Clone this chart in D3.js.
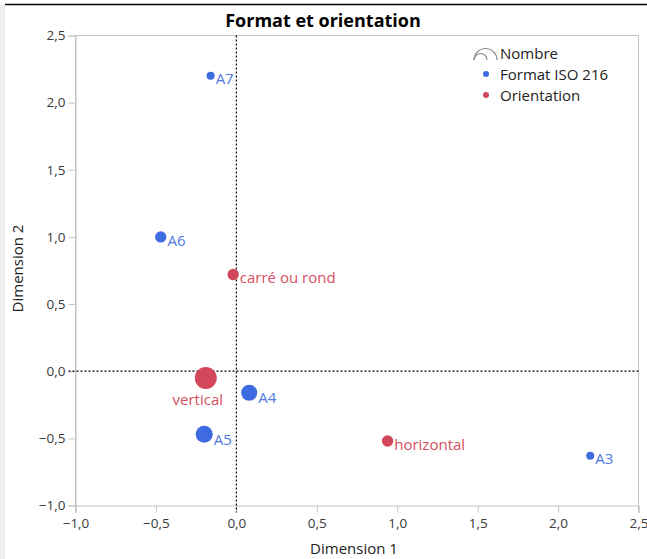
<!DOCTYPE html>
<html><head><meta charset="utf-8">
<script src="https://cdn.jsdelivr.net/npm/d3@7"></script>
<style>
html,body{margin:0;padding:0;background:#fff;}
text{font-family:"Open Sans","Noto Sans",sans-serif;}
</style></head>
<body><svg id="c" width="647" height="559"></svg>
<script>
// Data
const labels = ["A7","A6","carré ou rond","vertical","A4","A5","horizontal","A3"];
const groups = ["Format ISO 216","Format ISO 216","Orientation","Orientation","Format ISO 216","Format ISO 216","Orientation","Format ISO 216"];
const dim1 = [-0.16,-0.47,-0.02,-0.19,0.08,-0.20,0.94,2.20];
const dim2 = [2.20,1.00,0.72,-0.05,-0.16,-0.47,-0.52,-0.63];
const counts = [2,4,4,15,8,9,4,2];
const labelPlacement = ["right","right","right","below","right","right","right","right"];
const ticks = [-1.0,-0.5,0.0,0.5,1.0,1.5,2.0,2.5];
const legendGroups = ["Format ISO 216","Orientation"];

const svg = d3.select("#c");
const W=647,H=559;
const m = {l:75.5,r:638.5,t:35.5,b:505.5};
const x = d3.scaleLinear().domain([-1,2.5]).range([m.l,m.r]);
const y = d3.scaleLinear().domain([-1,2.5]).range([m.b,m.t]);
const r = d3.scaleSqrt().domain([0,d3.max(counts)]).range([0,11]);
const color = d3.scaleOrdinal().domain(legendGroups).range(["#3f6be0","#d2475a"]);
const lcolor = d3.scaleOrdinal().domain(legendGroups).range(["#4f78e2","#d4505f"]);
const fmt = v => d3.format(".1f")(v).replace(".",",");

// frame decorations
svg.append("rect").attr("x",0).attr("y",5).attr("width",5).attr("height",H).attr("fill","#f0f0f0");
svg.append("line").attr("x1",5).attr("x2",W).attr("y1",4.5).attr("y2",4.5).attr("stroke","#000").attr("stroke-width",1.5);

// title
svg.append("text").attr("x",323).attr("y",27).attr("text-anchor","middle")
  .attr("font-size",18).attr("font-weight","bold").attr("fill","#000").text("Format et orientation");

// plot border top / right
svg.append("line").attr("x1",m.l).attr("x2",m.r).attr("y1",m.t).attr("y2",m.t).attr("stroke","#c4c4c4");
svg.append("line").attr("x1",m.r).attr("x2",m.r).attr("y1",m.t).attr("y2",m.b+7).attr("stroke","#c4c4c4");

// axes
const xAxis = svg.append("g").attr("transform",`translate(0,${m.b})`)
  .call(d3.axisBottom(x).tickValues(ticks).tickFormat(fmt).tickSizeOuter(0).tickSize(7).tickPadding(3));
const yAxis = svg.append("g").attr("transform",`translate(${m.l},0)`)
  .call(d3.axisLeft(y).tickValues(ticks).tickFormat(fmt).tickSizeOuter(0).tickSize(7).tickPadding(3));
[xAxis,yAxis].forEach(a=>{
  a.select(".domain").attr("stroke","#c4c4c4");
  a.selectAll(".tick line").attr("stroke","#c4c4c4");
  a.selectAll("text").attr("font-size",13.5).attr("fill","#3a3a3a").attr("font-family","'Open Sans',sans-serif");
});
xAxis.selectAll("text").attr("dy","0.9em");
svg.append("line").attr("x1",m.l).attr("x2",m.l).attr("y1",m.t).attr("y2",m.b+7).attr("stroke","#c4c4c4");

// zero reference lines
svg.append("line").attr("x1",x(0)).attr("x2",x(0)).attr("y1",m.t).attr("y2",m.b+7)
  .attr("stroke","#000").attr("stroke-dasharray","2,2").attr("stroke-width",1.2);
svg.append("line").attr("x1",m.l-7).attr("x2",m.r).attr("y1",y(0)).attr("y2",y(0))
  .attr("stroke","#000").attr("stroke-dasharray","2,2").attr("stroke-width",1.2);

// axis titles
svg.append("text").attr("x",(m.l+m.r)/2-3).attr("y",554).attr("text-anchor","middle")
  .attr("font-size",15).attr("fill","#222").text("Dimension 1");
svg.append("text").attr("transform",`translate(23,${(m.t+m.b)/2 - 2}) rotate(-90)`).attr("text-anchor","middle")
  .attr("font-size",15).attr("fill","#222").text("Dimension 2");

// points
const data = labels.map((l,i)=>({l,g:groups[i],x:dim1[i],y:dim2[i],n:counts[i],p:labelPlacement[i]}));
const pts = svg.append("g");
pts.selectAll("circle").data(data).join("circle")
  .attr("cx",d=>x(d.x)).attr("cy",d=>y(d.y)).attr("r",d=>r(d.n)).attr("fill",d=>color(d.g));
pts.selectAll("text").data(data).join("text")
  .attr("x",d=>d.p==="below"? x(d.x)-8 : x(d.x)+r(d.n)+1)
  .attr("y",d=>d.p==="below"? y(d.y)+r(d.n)+16 : y(d.y)+r(d.n)/2+6)
  .attr("text-anchor",d=>d.p==="below"?"middle":"start")
  .attr("font-size",15).attr("fill",d=>lcolor(d.g)).text(d=>d.l);

// legend
const lg = svg.append("g");
lg.append("path").attr("d","M474,60 A11.5,11.5 0 0 1 497,60").attr("fill","none").attr("stroke","#888").attr("stroke-width",1.2);
lg.append("path").attr("d","M474,60 A6.5,6.5 0 0 1 487,60").attr("fill","none").attr("stroke","#888").attr("stroke-width",1.2);
lg.append("text").attr("x",500).attr("y",59).attr("font-size",15).attr("fill","#222").text("Nombre");
legendGroups.forEach((g,i)=>{
  const yy = 74 + i*21;
  lg.append("circle").attr("cx",486).attr("cy",yy).attr("r",3).attr("fill",color(g));
  lg.append("text").attr("x",500).attr("y",yy+5.5).attr("font-size",15).attr("fill","#222").text(g);
});
</script></body></html>
